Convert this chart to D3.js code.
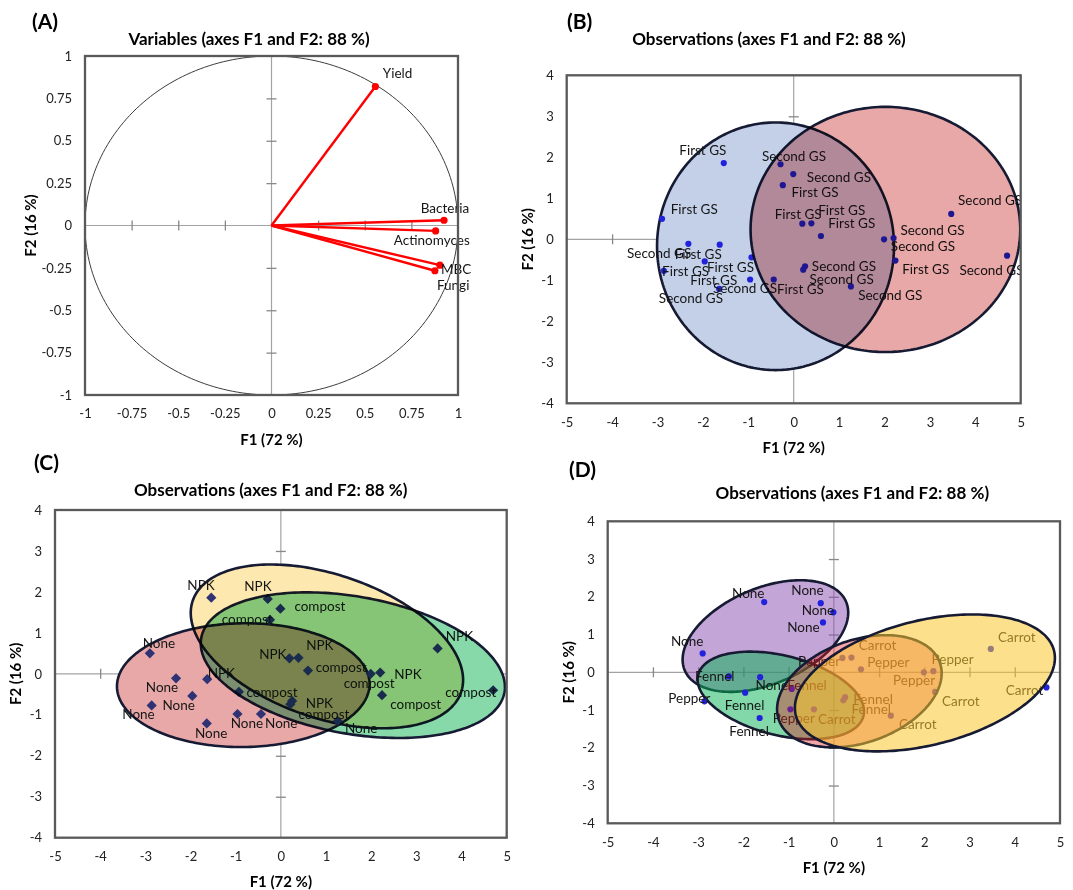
<!DOCTYPE html>
<html><head><meta charset="utf-8">
<script src="https://cdn.jsdelivr.net/npm/d3@7"></script>
<style>
body{margin:0;background:#fff;}
svg{display:block;font-family:Lato,'Open Sans',sans-serif;}
</style>
</head><body>
<svg id="chart" width="1073" height="890"></svg>
<script>
// ---------------- DATA ----------------
// Panel A: variable loadings
const varNames = ['Yield','Bacteria','Actinomyces','MBC','Fungi'];
const varF1 = [0.557, 0.925, 0.880, 0.903, 0.876];
const varF2 = [0.820, 0.031, -0.032, -0.234, -0.267];
const varLabelF1 = [0.597, 0.800, 0.656, 0.909, 0.887];
const varLabelF2 = [0.897, 0.104, -0.087, -0.258, -0.352];
const circleTicks = [-1,-0.75,-0.5,-0.25,0,0.25,0.5,0.75,1];

// Observations (scores on F1, F2)
const obsF1 = [-1.54,-0.29,-0.01,-0.24,-2.90,0.19,0.39,0.60,3.47,1.99,2.20,2.24,4.70,-2.32,-1.63,-1.96,-2.86,-0.93,-0.96,-1.64,-0.44,0.25,0.21,1.26];
const obsF2 = [1.86,1.83,1.59,1.32,0.50,0.38,0.39,0.08,0.62,0.00,0.03,-0.52,-0.40,-0.11,-0.13,-0.54,-0.77,-0.44,-0.98,-1.21,-0.98,-0.66,-0.74,-1.15];

// Categories
const seasons = ['First GS','Second GS','Second GS','First GS','First GS','First GS','First GS','First GS','Second GS','Second GS','Second GS','First GS','Second GS','Second GS','First GS','First GS','First GS','First GS','Second GS','Second GS','First GS','Second GS','Second GS','Second GS'];
const treatments = ['NPK','NPK','compost','compost','None','NPK','NPK','compost','NPK','compost','NPK','compost','compost','None','NPK','None','None','compost','None','None','None','NPK','compost','None'];
const crops = ['None','None','None','None','None','Pepper','Carrot','Pepper','Carrot','Pepper','Pepper','Carrot','Carrot','Fennel','None','Fennel','Pepper','Fennel','Pepper','Fennel','Carrot','Fennel','Fennel','Carrot'];

// Label anchor positions (data units) as placed in each panel
const seasonLabelF1 = [-2.52,-0.70,0.29,-0.05,-2.71,-0.42,0.54,0.76,3.62,2.35,2.14,2.39,3.65,-3.67,-2.62,-2.28,-2.90,-1.91,-1.78,-2.97,-0.37,0.40,0.35,1.42];
const seasonLabelF2 = [2.18,2.02,1.51,1.15,0.73,0.61,0.70,0.40,0.94,0.22,-0.17,-0.74,-0.76,-0.35,-0.37,-1.01,-0.78,-0.69,-1.20,-1.45,-1.21,-0.67,-0.97,-1.37];
const treatLabelF1 = [-2.07,-0.81,0.30,-1.31,-3.06,-0.48,0.56,0.77,3.65,1.39,2.51,2.42,3.64,-2.99,-1.62,-2.62,-3.51,-0.76,-1.11,-1.90,-0.35,0.55,0.39,1.42];
const treatLabelF2 = [2.16,2.14,1.65,1.33,0.74,0.47,0.70,0.15,0.92,-0.24,0.00,-0.75,-0.46,-0.33,0.02,-0.76,-0.99,-0.46,-1.20,-1.46,-1.20,-0.71,-0.98,-1.32];
const cropLabelF1 = [-2.25,-0.94,-0.71,-1.03,-3.60,-0.79,0.55,0.74,3.63,1.31,2.16,2.39,3.80,-3.07,-1.73,-2.41,-3.66,-1.03,-1.35,-2.31,-0.35,0.43,0.39,1.44];
const cropLabelF2 = [2.09,2.18,1.65,1.18,0.83,0.30,0.71,0.26,0.94,-0.22,0.34,-0.76,-0.47,-0.11,-0.35,-0.88,-0.70,-0.35,-1.23,-1.55,-1.25,-0.72,-0.98,-1.38];

// Group ellipses: centre (cx,cy) and conjugate semi-axis vectors u, v (data units)
const seasonEllipses = [
  {group:'First GS',  cx:-0.40, cy:-0.17, ux:2.61,  uy:0.00,  vx:0.00,  vy:3.02},
  {group:'Second GS', cx: 2.02, cy: 0.24, ux:2.97,  uy:0.00,  vx:0.00,  vy:2.99}
];
const treatmentEllipses = [
  {group:'None',    cx:-0.832, cy:-0.276, ux:2.796, uy:0.040,  vx:-0.02, vy:1.51},
  {group:'NPK',     cx: 1.02,  cy: 0.67,  ux:2.971, uy:-1.116, vx:0.512, vy:1.659},
  {group:'compost', cx: 1.594, cy: 0.212, ux:3.356, uy:-0.666, vx:0.269, vy:1.648}
];
const cropEllipses = [
  {group:'None',   cx:-1.513, cy: 0.960, ux:1.783, uy: 0.910, vx:-0.415, vy:1.165},
  {group:'Fennel', cx:-1.173, cy:-0.612, ux:1.827, uy:-0.545, vx: 0.213, vy:1.023},
  {group:'Pepper', cx: 0.564, cy:-0.503, ux:1.779, uy: 0.761, vx:-0.381, vy:1.277},
  {group:'Carrot', cx: 2.013, cy:-0.281, ux:2.855, uy: 0.852, vx:-0.333, vy:1.601}
];
const obsTicksX = [-5,-4,-3,-2,-1,0,1,2,3,4,5];
const obsTicksY = [-4,-3,-2,-1,0,1,2,3,4];

// ---------------- STYLE ----------------
const ellipseStyle = {
  B: {'First GS':{fill:'#c3d0e8',blend:'multiply',op:1}, 'Second GS':{fill:'#e8a8a8',blend:'multiply',op:1}},
  C: {'None':{fill:'#e8a8a8',blend:'multiply',op:1}, 'NPK':{fill:'#fde8b0',blend:'multiply',op:1}, 'compost':{fill:'#87d9aa',blend:'multiply',op:1}},
  D: {'None':{fill:'#874baf',blend:'normal',op:0.5}, 'Fennel':{fill:'#05b151',blend:'normal',op:0.5}, 'Pepper':{fill:'#de2121',blend:'normal',op:0.4}, 'Carrot':{fill:'#f9c72e',blend:'normal',op:0.55}}
};
const ellipseStroke = '#161b33';
const frameColor = '#595959';
const zeroColor = '#a3a3a3';
const tickColor = '#888888';
const textColor = '#161616';
const labelSize = 13.5, tickSize = 13;

const svg = d3.select('#chart');
const fmt = d => String(d);
const angles = d3.range(0, 2*Math.PI, Math.PI/120);

function axesFrame(g, box, xs, ys, xTicks, yTicks) {
  g.append('line').attr('x1',box.l).attr('x2',box.r).attr('y1',ys(0)).attr('y2',ys(0)).attr('stroke',zeroColor).attr('stroke-width',1.2);
  g.append('line').attr('y1',box.t).attr('y2',box.b).attr('x1',xs(0)).attr('x2',xs(0)).attr('stroke',zeroColor).attr('stroke-width',1.2);
  const [x0,x1] = xs.domain(), [y0,y1] = ys.domain();
  const xt = xTicks.filter(v => v!==0 && v>x0 && v<x1);
  const yt = yTicks.filter(v => v!==0 && v>Math.min(y0,y1) && v<Math.max(y0,y1));
  g.append('g').attr('transform',`translate(0,${ys(0)-5})`)
    .call(d3.axisBottom(xs).tickValues(xt).tickSize(10).tickFormat(''))
    .call(s=>{s.select('.domain').remove(); s.selectAll('line').attr('stroke',tickColor).attr('stroke-width',1.3);});
  g.append('g').attr('transform',`translate(${xs(0)-5},0)`)
    .call(d3.axisRight(ys).tickValues(yt).tickSize(10).tickFormat(''))
    .call(s=>{s.select('.domain').remove(); s.selectAll('line').attr('stroke',tickColor).attr('stroke-width',1.3);});
}
function tickLabels(g, box, xs, ys, xTicks, yTicks) {
  g.append('g').attr('transform',`translate(0,${box.b})`)
    .call(d3.axisBottom(xs).tickValues(xTicks).tickSize(0).tickPadding(14.2).tickFormat(fmt))
    .call(s=>{s.select('.domain').remove(); s.selectAll('text').attr('fill','#222').style('font-size',tickSize+'px').style('font-family','Lato, sans-serif');});
  g.append('g').attr('transform',`translate(${box.l},0)`)
    .call(d3.axisLeft(ys).tickValues(yTicks).tickSize(0).tickPadding(13).tickFormat(fmt))
    .call(s=>{s.select('.domain').remove(); s.selectAll('text').attr('fill','#222').style('font-size',tickSize+'px').style('font-family','Lato, sans-serif');});
}
function titles(g, box, t) {
  g.append('text').attr('x',t.letterX).attr('y',t.letterY).attr('dy','0.35em').attr('font-size',21).attr('font-weight',700).attr('fill','#000').text(t.letter);
  g.append('text').attr('x',t.titleX).attr('y',t.titleY).attr('dy','0.35em').attr('text-anchor','middle').attr('font-size',17).attr('font-weight',700).attr('fill','#000').text(t.title);
  g.append('text').attr('x',(box.l+box.r)/2).attr('y',box.b+44.5).attr('dy','0.35em').attr('text-anchor','middle').attr('font-size',15).attr('font-weight',700).attr('fill','#000').text('F1 (72 %)');
  g.append('text').attr('transform',`translate(${t.f2X},${(box.t+box.b)/2}) rotate(-90)`).attr('dy','0.35em').attr('text-anchor','middle').attr('font-size',15).attr('font-weight',700).attr('fill','#000').text('F2 (16 %)');
}
function frame(g, box) {
  g.append('rect').attr('x',box.l).attr('y',box.t).attr('width',box.r-box.l).attr('height',box.b-box.t)
    .attr('fill','none').attr('stroke',frameColor).attr('stroke-width',2.3);
}

// ---------------- PANEL A ----------------
(function(){
  const box = {l:85, r:458, t:56, b:395};
  const xs = d3.scaleLinear().domain([-1,1]).range([box.l,box.r]);
  const ys = d3.scaleLinear().domain([-1,1]).range([box.b,box.t]);
  const g = svg.append('g');
  axesFrame(g, box, xs, ys, circleTicks, circleTicks);
  const circ = d3.line().x(t=>xs(Math.cos(t))).y(t=>ys(Math.sin(t)));
  g.append('path').attr('d',circ(angles)+'Z').attr('fill','none').attr('stroke','#3c3c3c').attr('stroke-width',1);
  varNames.forEach((n,i)=>{
    g.append('line').attr('x1',xs(0)).attr('y1',ys(0)).attr('x2',xs(varF1[i])).attr('y2',ys(varF2[i]))
      .attr('stroke','#ff0000').attr('stroke-width',2.4);
  });
  varNames.forEach((n,i)=>{
    g.append('circle').attr('cx',xs(varF1[i])).attr('cy',ys(varF2[i])).attr('r',3.6).attr('fill','#ff0000');
    g.append('text').attr('x',xs(varLabelF1[i])).attr('y',ys(varLabelF2[i])).attr('dy','0.35em')
      .attr('font-size',labelSize).attr('fill',textColor).text(n);
  });
  frame(g, box);
  tickLabels(g, box, xs, ys, circleTicks, circleTicks);
  titles(g, box, {letter:'(A)', letterX:32, letterY:22, title:'Variables (axes F1 and F2: 88 %)', titleX:249, titleY:39, f2X:31});
})();

// ---------------- OBSERVATION PANELS ----------------
function obsPanel(cfg) {
  const box = cfg.box;
  const xs = d3.scaleLinear().domain([-5,5]).range([box.l,box.r]);
  const ys = d3.scaleLinear().domain([-4,4]).range([box.b,box.t]);
  const g = svg.append('g');
  const clipId = 'clip'+cfg.id;
  g.append('clipPath').attr('id',clipId).append('rect').attr('x',box.l).attr('y',box.t).attr('width',box.r-box.l).attr('height',box.b-box.t);
  axesFrame(g, box, xs, ys, obsTicksX, obsTicksY);
  const plot = g.append('g').attr('clip-path',`url(#${clipId})`).style('isolation','isolate');
  const drawEll = (e) => {
    const st = ellipseStyle[cfg.id][e.group];
    const ln = d3.line()
      .x(t=>xs(e.cx + e.ux*Math.cos(t) + e.vx*Math.sin(t)))
      .y(t=>ys(e.cy + e.uy*Math.cos(t) + e.vy*Math.sin(t)));
    plot.append('path').attr('d',ln(angles)+'Z')
      .attr('fill',st.fill).attr('fill-opacity',st.op).style('mix-blend-mode',st.blend)
      .attr('stroke',ellipseStroke).attr('stroke-width',2.6);
  };
  cfg.ellipses.slice(0,cfg.nBelow).forEach(drawEll);
  const pts = plot.append('g');
  obsF1.forEach((v,i)=>{
    if (cfg.marker==='diamond') {
      pts.append('path').attr('d',d3.symbol(d3.symbolSquare,52)())
        .attr('transform',`translate(${xs(v)},${ys(obsF2[i])}) rotate(45)`).attr('fill','#2f3374');
    } else {
      pts.append('circle').attr('cx',xs(v)).attr('cy',ys(obsF2[i])).attr('r',3.1).attr('fill','#2222dc');
    }
  });
  cfg.labels.forEach((lab,i)=>{
    pts.append('text').attr('x',xs(cfg.labF1[i])).attr('y',ys(cfg.labF2[i])).attr('dy','0.35em')
      .attr('font-size',labelSize).attr('fill',textColor).text(lab);
  });
  cfg.ellipses.slice(cfg.nBelow).forEach(drawEll);
  frame(g, box);
  tickLabels(g, box, xs, ys, obsTicksX, obsTicksY);
  titles(g, box, cfg.t);
}

obsPanel({id:'B', box:{l:566.7, r:1020.7, t:75.3, b:403.3}, labels:seasons, labF1:seasonLabelF1, labF2:seasonLabelF2,
  ellipses:seasonEllipses, nBelow:1, marker:'dot',
  t:{letter:'(B)', letterX:567, letterY:22, title:'Observations (axes F1 and F2: 88 %)', titleX:769, titleY:39, f2X:528}});
obsPanel({id:'C', box:{l:55, r:506.7, t:510, b:837.7}, labels:treatments, labF1:treatLabelF1, labF2:treatLabelF2,
  ellipses:treatmentEllipses, nBelow:2, marker:'diamond',
  t:{letter:'(C)', letterX:34, letterY:463, title:'Observations (axes F1 and F2: 88 %)', titleX:270.7, titleY:490, f2X:15.7}});
obsPanel({id:'D', box:{l:607.7, r:1060, t:521.3, b:823.3}, labels:crops, labF1:cropLabelF1, labF2:cropLabelF2,
  ellipses:cropEllipses, nBelow:2, marker:'dot',
  t:{letter:'(D)', letterX:569, letterY:470, title:'Observations (axes F1 and F2: 88 %)', titleX:852.3, titleY:493.3, f2X:568.3}});
</script>
</body></html>
